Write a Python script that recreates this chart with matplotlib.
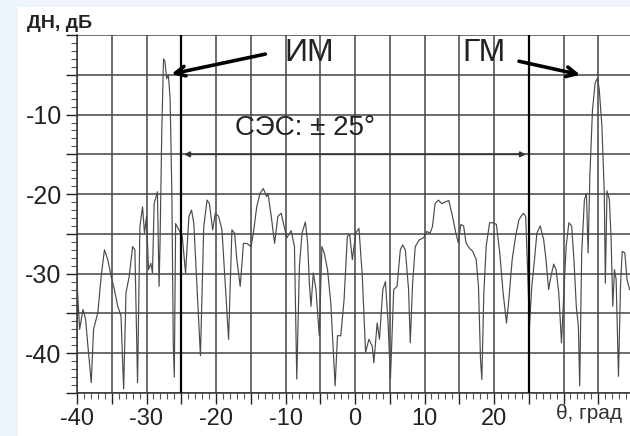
import matplotlib.pyplot as plt
from matplotlib.patches import Rectangle
from matplotlib.ticker import MultipleLocator, FuncFormatter

plt.rcParams['font.family'] = ['Liberation Sans', 'DejaVu Sans']

# angle, degrees
theta = [-40.0, -39.62, -39.14, -38.76, -38.43, -37.95, -37.62, -37.0, -36.52, -36.05,
         -35.57, -35.1, -34.62, -34.14, -33.67, -33.29, -32.95, -32.48, -32.0, -31.67,
         -31.29, -30.95, -30.57, -30.29, -30.0, -29.71, -29.38, -29.14, -28.9, -28.43,
         -28.19, -28.05, -27.8, -27.55, -27.35, -27.1, -26.85, -26.6, -26.35, -26.15,
         -26.0, -25.81, -25.33, -24.86, -24.38, -23.9, -23.52, -23.19, -22.71, -22.24,
         -21.76, -21.29, -20.95, -20.48, -20.1, -19.62, -19.14, -18.67, -18.19, -17.71,
         -17.33, -17.0, -16.52, -16.05, -15.57, -14.95, -14.62, -14.14, -13.67, -13.19,
         -12.71, -12.52, -12.05, -11.57, -11.1, -10.62, -10.29, -9.81, -9.19, -8.71,
         -8.38, -8.0, -7.62, -7.14, -6.81, -6.57, -6.33, -6.0, -5.62, -5.14,
         -4.76, -4.43, -3.95, -3.48, -3.14, -2.86, -2.52, -2.05, -1.57, -1.1,
         -0.76, -0.38, 0.1, 0.57, 1.05, 1.52, 2.0, 2.48, 2.71, 3.19,
         3.52, 4.0, 4.38, 4.76, 5.1, 5.57, 6.05, 6.52, 6.86, 7.24,
         7.71, 7.95, 8.29, 8.67, 9.24, 9.86, 10.33, 10.81, 11.14, 11.52,
         12.0, 12.48, 12.95, 13.5, 14.03, 14.51, 14.85, 15.24, 15.63, 15.97,
         16.46, 16.94, 17.43, 17.77, 18.06, 18.25, 18.54, 18.88, 19.37, 19.85,
         20.34, 20.83, 21.31, 21.8, 22.14, 22.62, 23.11, 23.59, 24.22, 24.56,
         24.85, 25.1, 25.44, 25.83, 26.17, 26.65, 27.14, 27.48, 27.86, 28.2,
         28.59, 28.93, 29.32, 29.71, 30.05, 30.39, 30.78, 31.17, 31.5, 31.84,
         32.14, 32.33, 32.62, 33.01, 33.3, 33.54, 33.79, 34.17, 34.56, 34.9,
         35.15, 35.53, 35.87, 36.02, 36.26, 36.6, 36.84, 37.09, 37.33, 37.57,
         37.91, 38.2, 38.45, 38.83, 39.13, 39.51]

# pattern level, dB
pattern = [-31.0, -37.0, -34.5, -35.75, -39.1, -43.7, -37.0, -34.9, -30.3, -27.0,
           -28.25, -30.3, -32.0, -34.1, -35.3, -44.5, -32.4, -30.3, -26.6, -27.0,
           -43.7, -24.1, -21.6, -24.9, -22.8, -29.5, -28.7, -29.9, -21.2, -19.7,
           -31.6, -26.0, -12.0, -3.0, -3.3, -5.5, -5.0, -8.0, -20.0, -38.7,
           -43.0, -23.7, -24.5, -25.3, -29.9, -22.8, -22.0, -23.7, -32.0, -40.3,
           -24.1, -20.75, -21.2, -24.5, -22.4, -22.8, -24.5, -31.2, -38.25, -24.5,
           -24.9, -28.25, -31.6, -26.2, -26.2, -26.6, -24.9, -21.6, -19.9, -19.3,
           -20.3, -19.9, -22.8, -26.2, -22.8, -22.4, -23.7, -25.5, -24.6, -26.6,
           -43.25, -29.1, -24.9, -23.5, -26.2, -31.2, -34.1, -29.9, -32.0, -37.8,
           -26.6, -27.4, -29.5, -33.7, -39.5, -44.1, -37.8, -37.8, -33.25, -25.3,
           -25.1, -28.25, -24.9, -24.3, -30.3, -39.9, -38.25, -39.1, -41.2, -36.2,
           -38.25, -32.0, -31.0, -36.2, -43.25, -32.0, -31.6, -27.0, -26.4, -27.0,
           -32.0, -38.7, -31.2, -26.6, -25.75, -25.5, -24.7, -24.9, -24.1, -21.2,
           -20.75, -21.2, -21.0, -20.8, -22.8, -24.9, -26.1, -23.8, -24.0, -26.1,
           -26.8, -27.2, -28.2, -31.6, -40.8, -43.3, -32.4, -26.5, -23.6, -23.6,
           -23.8, -27.4, -32.4, -36.2, -33.2, -28.2, -25.3, -23.2, -22.4, -22.8,
           -29.9, -36.6, -31.6, -28.2, -24.9, -24.0, -25.7, -28.2, -32.0, -30.3,
           -28.8, -29.5, -32.4, -38.7, -32.4, -26.5, -23.6, -24.0, -28.2, -34.1,
           -36.6, -44.1, -27.4, -20.7, -19.9, -27.4, -17.8, -9.4, -6.0, -5.4,
           -6.9, -11.5, -19.9, -31.2, -19.6, -20.7, -25.3, -34.1, -29.5, -30.7,
           -42.9, -31.6, -27.2, -27.4, -30.7, -32.0]

sector = 25  # scan sector, +/- degrees

fig = plt.figure(figsize=(6.3, 4.36), dpi=100, facecolor='#eef4fb')
fig.patches.append(Rectangle((18 / 630, 0), 1, 429 / 436, transform=fig.transFigure,
                             facecolor='white', edgecolor='none', zorder=-10))

ax = fig.add_axes([77 / 630, 43 / 436, 556 / 630, 358 / 436])
ax.patch.set_alpha(0)
ax.plot(theta, pattern, color='#4a4a4a', lw=0.85, zorder=3)

ax.set_xlim(-40, 40)
ax.set_ylim(-45, 0)
ax.xaxis.set_major_locator(MultipleLocator(5))
ax.xaxis.set_minor_locator(MultipleLocator(1))
ax.yaxis.set_major_locator(MultipleLocator(5))
ax.yaxis.set_minor_locator(MultipleLocator(1))
ax.xaxis.set_major_formatter(FuncFormatter(lambda v, p: f'{v:.0f}' if v % 10 == 0 and v < 30 else ''))
ax.yaxis.set_major_formatter(FuncFormatter(lambda v, p: f'{v:.0f}' if v % 10 == 0 and v < 0 else ''))
ax.tick_params(which='major', length=8, width=1, labelsize=18, colors='#222', pad=3)
ax.tick_params(axis='x', which='major', labelsize=17, pad=3)
ax.tick_params(which='minor', length=4, width=0.8, colors='#555')
ax.grid(True, which='major', color='#444', lw=1.1)
ax.set_axisbelow(True)
for s in ['top', 'right']:
    ax.spines[s].set_visible(False)
for s in ['left', 'bottom']:
    ax.spines[s].set_color('#333')
    ax.spines[s].set_linewidth(1.1)

# sector borders and width arrow
for b in [-sector, sector]:
    ax.axvline(b, color='black', lw=1.6, zorder=4)
ax.annotate('', xy=(sector, -15), xytext=(-sector, -15),
            arrowprops=dict(arrowstyle='<|-|>', color='#333', lw=1.2, mutation_scale=8))
ax.text(-7.2, -11.7, 'СЭС: ± 25°', fontsize=20, ha='center', va='center', color='#222')

# lobe labels
ax.text(-6.6, -2.3, 'ИМ', fontsize=23, ha='center', va='center', color='#222')
ax.text(18.6, -2.3, 'ГМ', fontsize=23, ha='center', va='center', color='#222')
arrow = dict(arrowstyle='->,head_length=0.7,head_width=0.35', color='black', lw=2.6,
             shrinkA=0, shrinkB=0)
ax.annotate('', xy=(-26.4, -4.9), xytext=(-12.9, -2.4), arrowprops=arrow)
ax.annotate('', xy=(32.4, -5.0), xytext=(23.6, -3.3), arrowprops=arrow)

ax.text(28.9, -47.6, 'θ, град', fontsize=15, ha='left', va='center', color='#333', clip_on=False)
fig.text(27 / 630, 1 - 24 / 436, 'ДН, дБ', fontsize=14, fontweight='bold', ha='left',
         va='center', color='#222')

fig.savefig('out.png', dpi=100, facecolor=fig.get_facecolor())
